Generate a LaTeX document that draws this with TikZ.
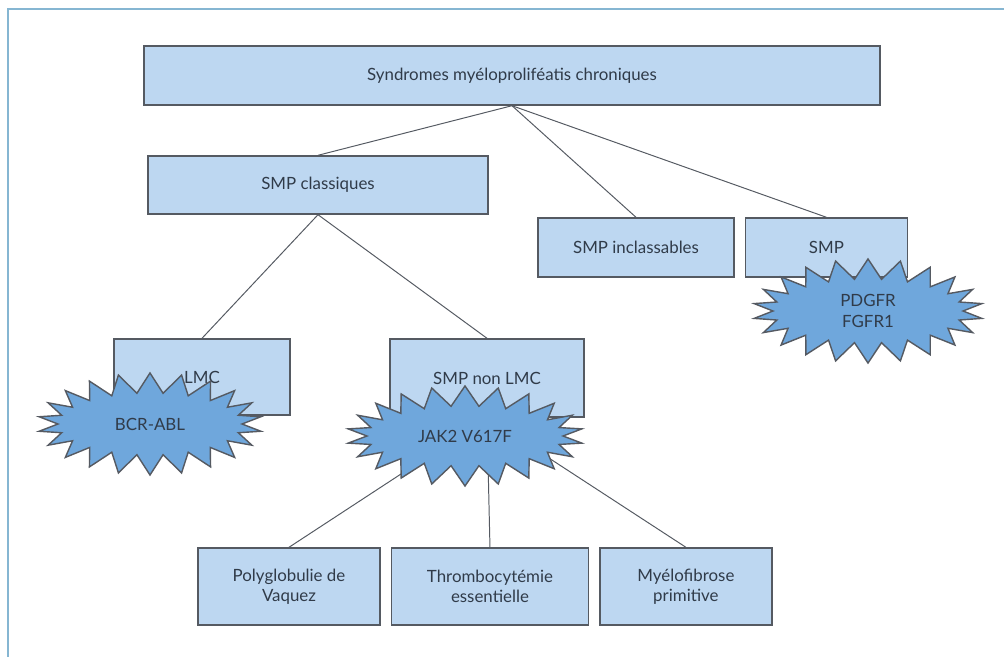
\documentclass[tikz,border=0pt]{standalone}
\usepackage{fontspec}
\setmainfont{Lato}
\usetikzlibrary{shapes.symbols,positioning}
\definecolor{boxfill}{HTML}{BDD7F1}
\definecolor{burstfill}{HTML}{6FA7DC}
\definecolor{edgegray}{HTML}{555A62}
\definecolor{textcol}{HTML}{303B49}
\definecolor{framecol}{HTML}{86B6D2}

\begin{document}
\begin{tikzpicture}[x=0.025cm,y=-0.025cm,node distance=0.25cm,
  every node/.style={font=\fontsize{12}{14.5}\selectfont,text=textcol,align=center},
  box/.style={draw=edgegray,fill=boxfill,line width=1pt,inner sep=0pt,minimum height=1.475cm},
  burst/.style={starburst,draw=edgegray,fill=burstfill,line width=1pt,inner sep=0pt,
    starburst points=22,starburst point height=0.5cm,random starburst=0},
  link/.style={draw=edgegray,line width=0.7pt}]
  \useasboundingbox (0,0) rectangle (1004,657);
  \draw[framecol,line width=1pt] (1004,9) -- (8,9) -- (8,657);

  \node (smp) [box,minimum width=18.4cm] at (512,75.5) {Syndromes myéloproliféatis chroniques};
  \node (cl) [box,minimum width=8.5cm,minimum height=1.45cm] at (318,185) {SMP classiques};
  \node (inc) [box,minimum width=4.9cm] at (636,247.5) {SMP inclassables};
  \node (pd) [box,minimum width=4.05cm,right=of inc] {SMP};
  \node (lmc) [box,minimum width=4.4cm,minimum height=1.9cm] at (202,377) {LMC};
  \node (nl) [box,minimum width=4.85cm,minimum height=1.95cm] at (487,378) {SMP non LMC};
  \node (pv) [box,minimum width=4.55cm,minimum height=1.925cm] at (289,586.5) {Polyglobulie de\\Vaquez};
  \node (te) [box,minimum width=4.925cm,minimum height=1.925cm,right=of pv] {Thrombocytémie\\essentielle};
  \node (mf) [box,minimum width=4.3cm,minimum height=1.925cm,right=of te] {Myélofibrose\\primitive};

  \path[link] (smp.south) edge (cl.north) edge (inc.north) edge (pd.north);
  \path[link] (cl.south) edge (lmc.north) edge (nl.north);
  \path[link] (nl.south) edge (pv.north) edge (te.north) edge (mf.north);

  % mutations
  \node (bcr) [burst,minimum width=5.6cm,minimum height=2.55cm] at (150,424) {BCR-ABL};
  \node (jak) [burst,minimum width=5.9cm,minimum height=2.5cm] at (465,436) {JAK2 V617F};
  \node (fgf) [burst,minimum width=5.75cm,minimum height=2.6cm] at (868,311) {PDGFR\\FGFR1};
\end{tikzpicture}
\end{document}
